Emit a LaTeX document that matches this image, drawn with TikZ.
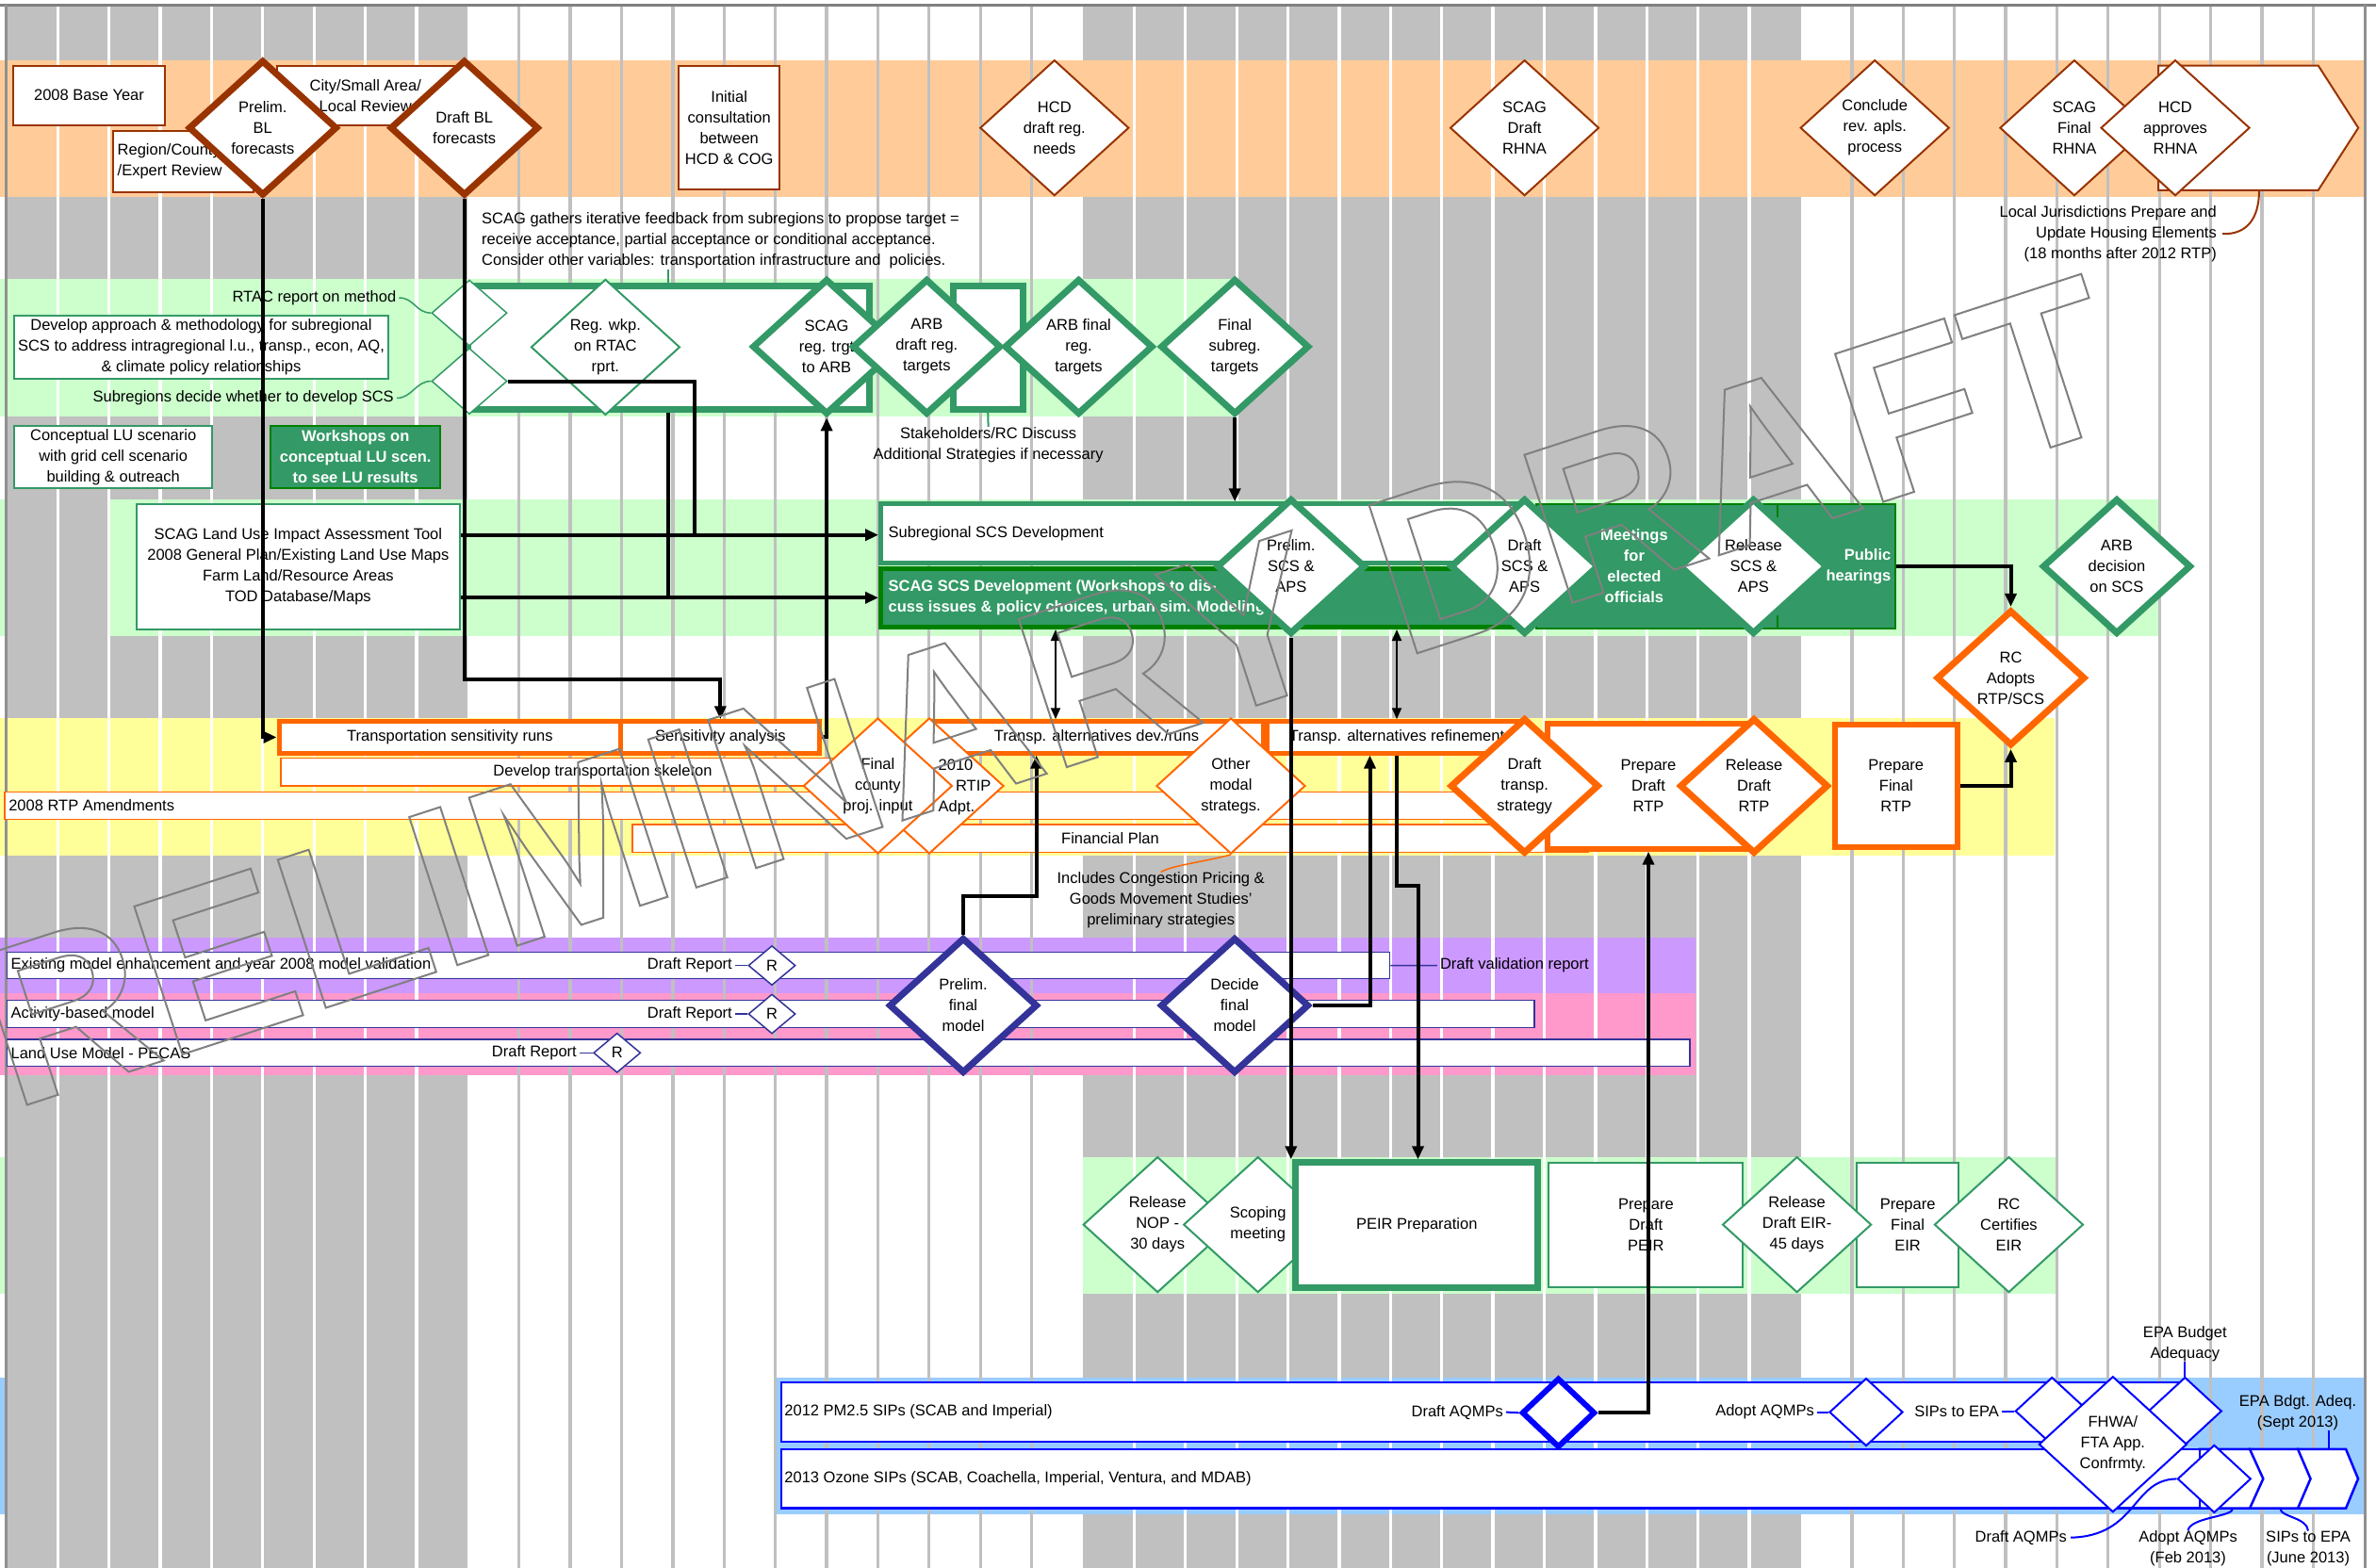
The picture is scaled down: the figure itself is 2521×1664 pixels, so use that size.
\documentclass[tikz,border=0pt]{standalone}
\usepackage{fontspec}
\setmainfont{Liberation Sans}
\usetikzlibrary{shapes.geometric,arrows.meta}
\newcommand{\fs}{\fontsize{16.5}{22}\selectfont}
\definecolor{cgray}{HTML}{C0C0C0}
\definecolor{bordgray}{HTML}{909090}
\definecolor{wmgray}{HTML}{808080}
\definecolor{bgor}{HTML}{FFCC99}
\definecolor{bggr}{HTML}{CCFFCC}
\definecolor{bgye}{HTML}{FFFF99}
\definecolor{bgpu}{HTML}{CC99FF}
\definecolor{bgpk}{HTML}{FF99CC}
\definecolor{bgbl}{HTML}{99CCFF}
\definecolor{cbrown}{HTML}{993300}
\definecolor{cgreen}{HTML}{339966}
\definecolor{cdgreen}{HTML}{008000}
\definecolor{corange}{HTML}{FF6600}
\definecolor{cnavy}{HTML}{333399}
\definecolor{cblue}{HTML}{0000FF}
\begin{document}
\begin{tikzpicture}[x=1pt,y=-1pt,
  box/.style={rectangle, fill=white, inner sep=0, font=\fs, align=center},
  dm/.style={shape=diamond, fill=white, inner sep=0, minimum width=158, minimum height=144},
  sdm/.style={shape=diamond, fill=white, inner sep=0, minimum width=78, minimum height=72, draw=cblue, line width=2},
  rdm/.style={shape=diamond, fill=white, inner sep=0, minimum width=50, minimum height=42, draw=cnavy, line width=1.5, font=\fs},
  lab/.style={font=\fs, align=center, inner sep=0},
  wlab/.style={font=\fs\bfseries, text=white, align=center, inner sep=0},
  lwa/.style={line width=2},
  lwb/.style={line width=7},
  conn/.style={line width=4, -{Triangle[length=14pt,width=12pt]}},
  cline/.style={line width=4},
  darr/.style={line width=2, {Triangle[length=12pt,width=10pt]}-{Triangle[length=12pt,width=10pt]}},
]
\useasboundingbox (0,0) rectangle (2521,1664);
\fill[white] (0,0) rectangle (2521,1664);
% gray periods
\fill[cgray] (6.8,7) rectangle (496.3,1664);
\fill[cgray] (1149,7) rectangle (1910.6,1664);
% bands
\fill[bgor] (0,64.3) rectangle (2508,208.9);
\fill[bggr] (0,296.4) rectangle (1311,442.1);
\fill[bggr] (0,530.4) rectangle (6.8,675);
\fill[bggr] (116,530.4) rectangle (2290,675);
\fill[bgye] (0,762) rectangle (2180,908);
\fill[bgpu] (0,995) rectangle (1799,1054);
\fill[bgpk] (0,1054) rectangle (1799,1141.4);
\fill[bggr] (0,1227.7) rectangle (6.8,1373.4);
\fill[bggr] (1149,1227.7) rectangle (2180.5,1373.4);
\fill[bgbl] (0,1461.5) rectangle (6.8,1607);
\fill[bgbl] (823,1461.5) rectangle (2508,1607);
% column separators
\foreach \k in {1,...,8} \draw[white, line width=3.3] ({61.2+54.39*(\k-1)},7) -- ++(0,1660);
\foreach \k in {22,...,34} \draw[white, line width=3.3] ({61.2+54.39*(\k-1)},7) -- ++(0,1660);
\foreach \k in {10,...,20} \draw[cgray, line width=3.3] ({61.2+54.39*(\k-1)},7) -- ++(0,1660);
\foreach \k in {36,...,45} \draw[cgray, line width=3.3] ({61.2+54.39*(\k-1)},7) -- ++(0,1660);
% frame
\draw[wmgray, line width=3] (0,5.5) -- (2521,5.5);
\draw[bordgray, line width=3] (6,5.5) -- (6,1664);
\draw[bordgray, line width=3] (2509,5.5) -- (2509,1664);

% ---------------- band 1 (housing)
\node[box, draw=cbrown, lwa, minimum width=160.4, minimum height=63.3] (base) at (94.5,101.25) {2008 Base Year};
\node[box, draw=cbrown, lwa, minimum width=149.4, minimum height=64.6,
  label={[lab, align=left, anchor=west, xshift=5.9]west:{Region/County\\/Expert Review}}] (regrev) at (194.3,171.3) {};
\node[box, draw=cbrown, lwa, minimum width=187.6, minimum height=63.3] (city) at (387.8,101.25) {City/Small Area/\\Local Review};
\node[dm, draw=cbrown, lwb, label={[lab]center:{Prelim.\\BL\\forecasts}}] (pbl) at (278.8,135.7) {};
\node[dm, draw=cbrown, lwb, label={[lab]center:{Draft BL\\forecasts}}] (dbl) at (492.7,135.7) {};
\node[box, draw=cbrown, lwa, minimum width=107.3, minimum height=131.4] (init) at (773.7,135.3) {Initial\\consultation\\between\\HCD \& COG};
\node[dm, draw=cbrown, lwa, label={[lab]center:{HCD\\draft reg.\\needs}}] (hcdd) at (1118.8,135.7) {};
\node[dm, draw=cbrown, lwa, label={[lab]center:{SCAG\\Draft\\RHNA}}] (scagd) at (1617.6,135.7) {};
\node[dm, draw=cbrown, lwa, label={[lab]center:{Conclude\\rev. apls.\\process}}] (concl) at (1989.2,135.7) {};
\node[dm, draw=cbrown, lwa, label={[lab]center:{SCAG\\Final\\RHNA}}] (sfin) at (2200.9,135.7) {};
\filldraw[fill=white, draw=cbrown, lwa] (2290,69.6) -- (2459.7,69.6) -- (2502.2,135.7) -- (2459.7,201.8) -- (2290,201.8) -- cycle;
\coordinate (pentb) at (2397,201.8);
\node[dm, draw=cbrown, lwa, label={[lab]center:{HCD\\approves\\RHNA}}] (hcda) at (2308,135.7) {};
\node[lab, align=right, anchor=east] (locj) at (2352,248.2) {Local Jurisdictions Prepare and\\Update Housing Elements\\(18 months after 2012 RTP)};
\draw[cbrown, lwa] (pentb) .. controls (2397,232) and (2384,249) .. ([xshift=6]locj.east);

% ---------------- band 2 (targets)
\node[lab, align=left, anchor=west] (gath) at (511,255) {SCAG gathers iterative feedback from subregions to propose target =\\receive acceptance, partial acceptance or conditional acceptance.\\Consider other variables: transportation infrastructure and\ \ policies.};
\node[lab, anchor=east] (rtac) at (420.4,316) {RTAC report on method};
\node[box, draw=cgreen, lwa, minimum width=397, minimum height=66.8] (devap) at (213.5,368.4) {Develop approach \& methodology for subregional\\SCS to address intragregional l.u., transp., econ, AQ,\\\& climate policy relationships};
\node[lab, anchor=east] (subd) at (418,422.5) {Subregions decide whether to develop SCS};
\node[box, draw=cgreen, lwb, minimum width=426, minimum height=131] (bigbox) at (709,368.5) {};
\node[shape=diamond, fill=white, inner sep=0, minimum width=80, minimum height=70, draw=cgreen, line width=1.5] (sd1) at (498,332.1) {};
\node[shape=diamond, fill=white, inner sep=0, minimum width=80, minimum height=70, draw=cgreen, line width=1.5] (sd2) at (498,404.5) {};
\draw[cgreen, line width=1.5] ([xshift=3]rtac.east) .. controls +(16,0) and +(-16,0) .. (sd1.west);
\draw[cgreen, line width=1.5] ([xshift=3]subd.east) .. controls +(16,0) and +(-16,0) .. (sd2.west);
\node[dm, draw=cgreen, lwa, label={[lab]center:{Reg. wkp.\\on RTAC\\rprt.}}] (regw) at (642.4,368.4) {};
\node[dm, draw=cgreen, lwb, label={[lab]center:{SCAG\\reg. trgt\\to ARB}}] (srt) at (877.1,367.9) {};
\node[box, draw=cgreen, lwb, minimum width=74.3, minimum height=131] (box2) at (1048.2,368.5) {};
\node[dm, draw=cgreen, lwb, label={[lab]center:{ARB\\draft reg.\\targets}}] (arbd) at (983.3,367.9) {};
\node[dm, draw=cgreen, lwb, label={[lab]center:{ARB final\\reg.\\targets}}] (arbf) at (1144.5,367.9) {};
\node[dm, draw=cgreen, lwb, label={[lab]center:{Final\\subreg.\\targets}}] (fsub) at (1310.2,367.9) {};
\draw[cgreen, lwa] (bigbox.north) -- ++(0,-14);
\node[lab] (stak) at (1048.6,471.8) {Stakeholders/RC Discuss\\Additional Strategies if necessary};
\draw[cgreen, lwa] (box2.south) -- (stak.north);
\node[box, draw=cgreen, lwa, minimum width=210.3, minimum height=66.1] (clu) at (120.2,484.9) {Conceptual LU scenario\\with grid cell scenario\\building \& outreach};
\node[box, draw=cdgreen, fill=cgreen, lwa, minimum width=180.3, minimum height=66.1, font=\fs\bfseries, text=white] (wsh) at (377.2,484.9) {Workshops on\\conceptual LU scen.\\to see LU results};

% ---------------- band 3 (SCS)
\node[box, draw=cgreen, lwa, minimum width=342.8, minimum height=133] (lu) at (316.4,601.1) {SCAG Land Use Impact Assessment Tool\\2008 General Plan/Existing Land Use Maps\\Farm Land/Resource Areas\\TOD Database/Maps};
\node[box, draw=cgreen, line width=5, minimum width=685.5, minimum height=62.2,
  label={[lab, anchor=west, xshift=10.4]west:{Subregional SCS Development}}] (subscs) at (1277.25,565.9) {};
\node[box, draw=cdgreen, fill=cgreen, line width=5, minimum width=685.5, minimum height=62,
  label={[wlab, align=left, anchor=west, xshift=10.4]west:{SCAG SCS Development (Workshops to dis-\\cuss issues \& policy choices, urban sim. Modeling}}] (scagscs) at (1277.25,634.5) {};
\node[box, draw=cdgreen, fill=cgreen, lwa, minimum width=260, minimum height=132] (meet) at (1760,600.6) {};
\node[wlab] (meett) at (1733.9,601) {Meetings\\for\\elected\\officials};
\node[box, draw=cdgreen, fill=cgreen, lwa, minimum width=125, minimum height=132] (pub) at (1948.5,600.6) {};
\node[wlab, align=right, anchor=east] (pubt) at (2006.5,601) {Public\\hearings};
\node[dm, draw=cgreen, lwb, label={[lab]center:{Prelim.\\SCS \&\\APS}}] (pscs) at (1369.8,601) {};
\node[dm, draw=cgreen, lwb, label={[lab]center:{Draft\\SCS \&\\APS}}] (dscs) at (1617.6,601) {};
\node[dm, draw=cgreen, lwb, label={[lab]center:{Release\\SCS \&\\APS}}] (rscs) at (1860.4,601) {};
\node[dm, draw=cgreen, lwb, label={[lab]center:{ARB\\decision\\on SCS}}] (arbs) at (2245.9,601) {};
\node[dm, draw=corange, lwb, label={[lab]center:{RC\\Adopts\\RTP/SCS}}] (rca) at (2133.5,719.4) {};

% ---------------- band 4 (RTP)
\node[box, draw=corange, line width=5, minimum width=362.8, minimum height=33.3] (sruns) at (477.4,782.4) {Transportation sensitivity runs};
\node[box, draw=corange, line width=5, minimum width=211, minimum height=33.3] (sana) at (764.3,782.4) {Sensitivity analysis};
\node[box, draw=corange, line width=1.5, minimum width=683, minimum height=29.5] (skel) at (639.5,819.3) {Develop transportation skeleton};
\node[box, draw=corange, line width=1.5, minimum width=1595, minimum height=28.9,
  label={[lab, anchor=west, xshift=4.85]west:{2008 RTP Amendments}}] (rtpa) at (802.5,854.9) {};
\node[box, draw=corange, line width=1.5, minimum width=1014, minimum height=29.6] (finp) at (1178,889.6) {Financial Plan};
\node[box, draw=corange, line width=5, minimum width=353, minimum height=33.3] (tadev) at (1163.5,782.4) {Transp. alternatives dev./runs};
\node[box, draw=corange, line width=5, minimum width=276, minimum height=33.3] (tref) at (1482,782.4) {Transp. alternatives refinement};
\node[box, draw=corange, line width=6, minimum width=214, minimum height=133.2] (pdr) at (1749,834.1) {Prepare\\Draft\\RTP};
\node[box, draw=corange, line width=6, minimum width=130, minimum height=130] (pfr) at (2011.8,834.1) {Prepare\\Final\\RTP};
\node[dm, draw=corange, lwa] (rtip) at (986,834) {};
\node[dm, draw=corange, lwa, label={[lab]center:{Final\\county\\proj. input}}] (fcty) at (931.4,834) {};
\node[lab, align=left, anchor=west] (rtipt) at (995.5,835.4) {2010\\\hspace*{18.4pt}RTIP\\Adpt.};
\node[dm, draw=corange, lwa, label={[lab]center:{Other\\modal\\strategs.}}] (omod) at (1306,834) {};
\node[dm, draw=corange, lwb, label={[lab]center:{Draft\\transp.\\strategy}}] (dtr) at (1617.6,834) {};
\node[dm, draw=corange, lwb, label={[lab]center:{Release\\Draft\\RTP}}] (rdr) at (1861,834) {};
\node[lab] (incl) at (1231.7,955.5) {Includes Congestion Pricing \&\\Goods Movement Studies'\\preliminary strategies};
\draw[corange, line width=1.5] (incl.north) .. controls +(10,-7) and +(-30,8) .. (omod.south);

% ---------------- band 5/6 (models)
\node[box, draw=cnavy, line width=1.5, minimum width=1467.4, minimum height=28.1,
  label={[lab, anchor=west, xshift=4.85]west:{Existing model enhancement and year 2008 model validation}}] (emod) at (741,1024.65) {};
\node[box, draw=cnavy, line width=1.5, minimum width=1620.5, minimum height=28.9,
  label={[lab, anchor=west, xshift=4.85]west:{Activity-based model}}] (abm) at (817.55,1076) {};
\node[box, draw=cnavy, line width=1.5, minimum width=1785.7, minimum height=28.8,
  label={[lab, anchor=west, xshift=4.85]west:{Land Use Model - PECAS}}] (pecas) at (900.15,1117.3) {};
\node[rdm] (r1) at (819,1024.6) {R};
\node[rdm] (r2) at (819,1076) {R};
\node[rdm] (r3) at (654.7,1117.3) {R};
\node[lab, anchor=east] (dr1) at (777,1024.6) {Draft Report};
\node[lab, anchor=east] (dr2) at (777,1076) {Draft Report};
\node[lab, anchor=east] (dr3) at (612,1117.3) {Draft Report};
\draw[cnavy, line width=1.5] ([xshift=3]dr1.east) -- (r1.west);
\draw[cnavy, line width=1.5] ([xshift=3]dr2.east) -- (r2.west);
\draw[cnavy, line width=1.5] ([xshift=3]dr3.east) -- (r3.west);
\node[lab, anchor=west] (dvr) at (1527.8,1024.6) {Draft validation report};
\draw[cnavy, line width=1.5] (emod.east) -- ([xshift=-3]dvr.west);
\node[dm, draw=cnavy, lwb, label={[lab]center:{Prelim.\\final\\model}}] (pfm) at (1022,1067) {};
\node[dm, draw=cnavy, lwb, label={[lab]center:{Decide\\final\\model}}] (dfm) at (1310,1067) {};

% ---------------- band 7 (EIR)
\node[dm, draw=cgreen, lwa, label={[lab]center:{Release\\NOP -\\30 days}}] (nop) at (1228.2,1299.6) {};
\node[dm, draw=cgreen, lwa, label={[lab]center:{Scoping\\meeting}}] (scop) at (1334.7,1299.6) {};
\node[box, draw=cgreen, lwb, minimum width=257, minimum height=132.2] (peir) at (1503.25,1299.9) {PEIR Preparation};
\node[box, draw=cgreen, lwa, minimum width=206, minimum height=132.2] (pdp) at (1746.35,1299.9) {Prepare\\Draft\\PEIR};
\node[box, draw=cgreen, lwa, minimum width=108.4, minimum height=132.2] (pfe) at (2024.1,1299.9) {Prepare\\Final\\EIR};
\node[dm, draw=cgreen, lwa, label={[lab]center:{Release\\Draft EIR-\\45 days}}] (rde) at (1906.6,1299.6) {};
\node[dm, draw=cgreen, lwa, label={[lab]center:{RC\\Certifies\\EIR}}] (rcc) at (2131.4,1299.6) {};

% ---------------- band 8 (air quality)
\node[box, draw=cblue, line width=2.5, minimum width=1484, minimum height=63,
  label={[lab, anchor=west, xshift=4.5]west:{2012 PM2.5 SIPs (SCAB and Imperial)}}] (pm) at (1571,1498.4) {};
\filldraw[fill=white, draw=cblue, line width=2.5] (2438,1537.8) -- (2489,1537.8) -- (2502,1569.25) -- (2489,1600.7) -- (2438,1600.7) -- cycle;
\filldraw[fill=white, draw=cblue, line width=2.5] (2387,1537.8) -- (2438,1537.8) -- (2451.5,1569.25) -- (2438,1600.7) -- (2387,1600.7) -- cycle;
\filldraw[fill=white, draw=cblue, line width=2.5] (2333.8,1537.8) -- (2387,1537.8) -- (2401.3,1569.25) -- (2387,1600.7) -- (2333.8,1600.7) -- cycle;
\node[box, draw=cblue, line width=2.5, minimum width=1504.8, minimum height=62.9,
  label={[lab, anchor=west, xshift=4.5]west:{2013 Ozone SIPs (SCAB, Coachella, Imperial, Ventura, and MDAB)}}] (oz) at (1581.4,1569.25) {};
\node[sdm, line width=6, minimum height=74] (dam) at (1653.5,1499.3) {};
\node[lab, anchor=east] (damt) at (1595,1498.6) {Draft AQMPs};
\draw[cblue, lwa] ([xshift=3]damt.east) -- (dam.west);
\node[sdm] (adp) at (1980,1498.6) {};
\node[lab, anchor=east] (adpt) at (1925,1498.6) {Adopt AQMPs};
\draw[cblue, lwa] ([xshift=3]adpt.east) -- (adp.west);
\node[sdm] (sip) at (2177.2,1497.5) {};
\node[lab, anchor=east] (sipt) at (2121,1497.5) {SIPs to EPA};
\draw[cblue, lwa] ([xshift=3]sipt.east) -- (sip.west);
\node[sdm] (epab) at (2318.3,1497.5) {};
\node[dm, draw=cblue, lwa, minimum width=157, label={[lab]center:{FHWA/\\FTA App.\\Confrmty.}}] (fhwa) at (2241.8,1532.7) {};
\node[sdm] (adoz) at (2349.3,1569.4) {};
\node[lab] (epabt) at (2318.3,1425.9) {EPA Budget\\Adequacy};
\draw[cblue, lwa] (epabt.south) -- (epab.north);
\node[lab] (epaq) at (2438,1498.9) {EPA Bdgt. Adeq.\\(Sept 2013)};
\coordinate (eqt) at (2470.8,1537.8);
\draw[cblue, lwa] (eqt |- epaq.south) -- (eqt);
\node[lab, anchor=east] (daq2) at (2193,1631.7) {Draft AQMPs};
\draw[cblue, lwa] ([xshift=4]daq2.east) .. controls (2268,1630) and (2262,1570) .. (adoz.west);
\node[lab] (adq2) at (2321.5,1643.2) {Adopt AQMPs\\(Feb 2013)};
\coordinate (adqe) at (2368.5,1601.5);
\draw[cblue, lwa] (adq2.north) .. controls +(2,-14) and +(0,8) .. (adqe);
\node[lab] (sip2) at (2449,1643.2) {SIPs to EPA\\(June 2013)};
\coordinate (sipe) at (2419.6,1601.5);
\draw[cblue, lwa] (sip2.north) .. controls +(-1,-14) and +(0,8) .. (sipe);

% ---------------- connectors
\coordinate (y3) at (0,567.7);
\coordinate (y4) at (0,634.3);
\coordinate (x5) at (737,0);
\coordinate (b2) at (0,721.3);
\coordinate (x9) at (1120,0);
\coordinate (b12) at (1504.5,939.6);
\coordinate (b14) at (1099.6,950.6);
\coordinate (x13) at (1453.5,0);
\draw[conn] (pbl.south) |- (sruns.west);
\draw[conn] (dbl.south) |- (b2 -| sana.north) -- (sana.north);
\draw[conn] (lu.east |- y3) -- (subscs.west |- y3);
\draw[conn] (lu.east |- y4) -- (scagscs.west |- y4);
\draw[cline] (sd2.east) -| (x5 |- y3);
\draw[cline] (bigbox.south) -- (bigbox.south |- y4);
\draw[conn] (sana.east) -| (srt.south);
\draw[conn] (fsub.south) -- (fsub.south |- subscs.north);
\draw[darr] (x9 |- scagscs.south) -- (x9 |- tadev.north);
\draw[darr] (tref.north |- scagscs.south) -- (tref.north);
\draw[conn] (pscs.south) -- (pscs.south |- peir.north);
\draw[conn] (tref.south) |- (b12) -- (b12 |- peir.north);
\draw[conn] (dfm.east) -| (x13 |- tref.south);
\draw[conn] (pfm.north) |- (b14) -- (b14 |- tadev.south);
\draw[conn] (dam.east) -| (pdr.south);
\draw[conn] (pub.east) -| (rca.north);
\draw[conn] (pfr.east) -| (rca.south);

% ---------------- watermark (outlined text)
\node[rotate=18, anchor=base west, inner sep=0, text=wmgray, font={\bfseries\fontsize{240}{240}\selectfont}] (wm) at (-139,1227) {\special{pdf:literal direct 1 Tr 2 w}PRELIMINARY DRAFT\special{pdf:literal direct 0 Tr}};
\end{tikzpicture}
\end{document}
